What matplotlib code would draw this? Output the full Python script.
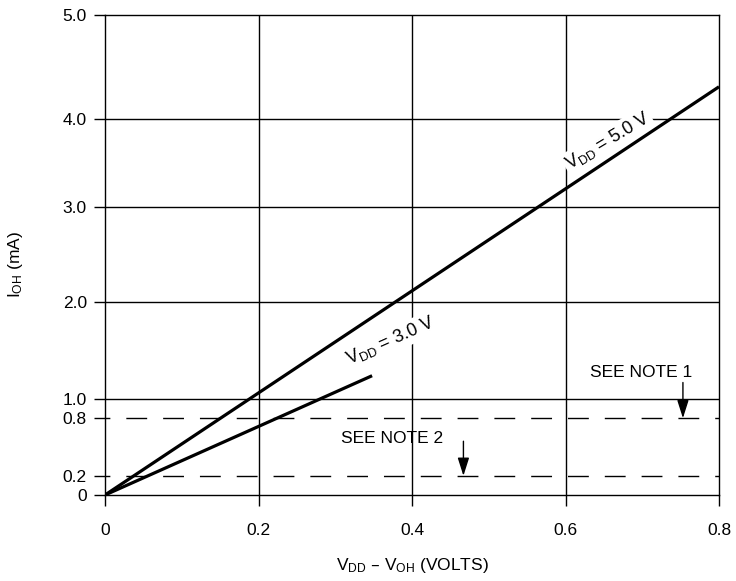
import numpy as np
import matplotlib
matplotlib.use('Agg')
from matplotlib import pyplot as plt

plt.rcParams['font.family'] = ['Liberation Sans', 'DejaVu Sans']
plt.rcParams['mathtext.default'] = 'regular'
plt.rcParams['lines.scale_dashes'] = False

# data
x_5v = [0.0, 0.8]
y_5v = [0.0, 4.31]
x_3v = [0.0, 0.348]
y_3v = [0.0, 1.24]
x_ticks = [0, 0.2, 0.4, 0.6, 0.8]
x_ticklabels = ['0', '0.2', '0.4', '0.6', '0.8']
y_ticks = [0, 0.2, 0.8, 1.0, 2.0, 3.0, 4.0, 5.0]
y_ticklabels = ['0', '0.2', '0.8', '1.0', '2.0', '3.0', '4.0', '5.0']
grid_x = [0.2, 0.4, 0.6]
grid_y = [1.0, 2.0, 3.0, 4.0]
limit_y = [0.2, 0.8]

# the printed y axis is not evenly spaced, follow it
knots = np.array([0, 1, 2, 3, 4, 5])
spots = np.array([0, 96, 193, 288, 376, 480]) / 480.0

def fwd(v):
    return np.interp(v, knots, spots)

def inv(v):
    return np.interp(v, spots, knots)

fig = plt.figure(figsize=(7.36, 5.81), dpi=100)
ax = fig.add_axes([105/736, 1-495/581, 614/736, 480/581])
ax.set_yscale('function', functions=(fwd, inv))
ax.set_xlim(0, 0.8)
ax.set_ylim(0, 5)

for g in grid_x:
    ax.axvline(g, color='black', lw=1.0, zorder=1)
for g in grid_y:
    ax.axhline(g, color='black', lw=1.0, zorder=1)
for g in limit_y:
    ax.axhline(g, color='black', lw=1.0, linestyle=(11.5, (15, 11.5)), zorder=1)

ax.plot(x_5v, y_5v, color='black', lw=2.3, zorder=4, solid_capstyle='butt')
ax.plot(x_3v, y_3v, color='black', lw=2.3, zorder=4, solid_capstyle='butt')

box = dict(facecolor='white', edgecolor='none', pad=1.5)
ax.text(0.655, 3.75, r'$V_{DD}$ = 5.0 V', fontsize=13, rotation=31,
        ha='center', va='center', bbox=box, zorder=3)
ax.text(0.372, 1.6, r'$V_{DD}$ = 3.0 V', fontsize=13, rotation=24,
        ha='center', va='center', bbox=box, zorder=3)

ax.text(0.699, 1.27, 'SEE NOTE 1', fontsize=12.5, ha='center', va='center')
ax.text(0.374, 0.59, 'SEE NOTE 2', fontsize=12.5, ha='center', va='center')
arrow = dict(arrowstyle='-|>,head_length=1.1,head_width=0.35',
             color='black', lw=1.0, shrinkA=0, shrinkB=0)
ax.annotate('', xy=(0.753, 0.8), xytext=(0.753, 1.17), arrowprops=arrow)
ax.annotate('', xy=(0.467, 0.2), xytext=(0.467, 0.56), arrowprops=arrow)

ax.set_xticks(x_ticks)
ax.set_xticklabels(x_ticklabels)
ax.set_yticks(y_ticks)
ax.set_yticklabels(y_ticklabels)
ax.minorticks_off()
ax.tick_params(direction='out', length=8, width=1.0, labelsize=12.5, pad=12)
ax.tick_params(axis='y', pad=5)
for s in ax.spines.values():
    s.set_linewidth(1.0)

ax.set_xlabel(r'$V_{DD}$ – $V_{OH}$ (VOLTS)', fontsize=12.5)
ax.set_ylabel(r'$I_{OH}$ (mA)', fontsize=12.5)
ax.xaxis.set_label_coords(0.5, -0.127)
ax.yaxis.set_label_coords(-0.13, 0.48)

plt.savefig('out.png', dpi=100)
